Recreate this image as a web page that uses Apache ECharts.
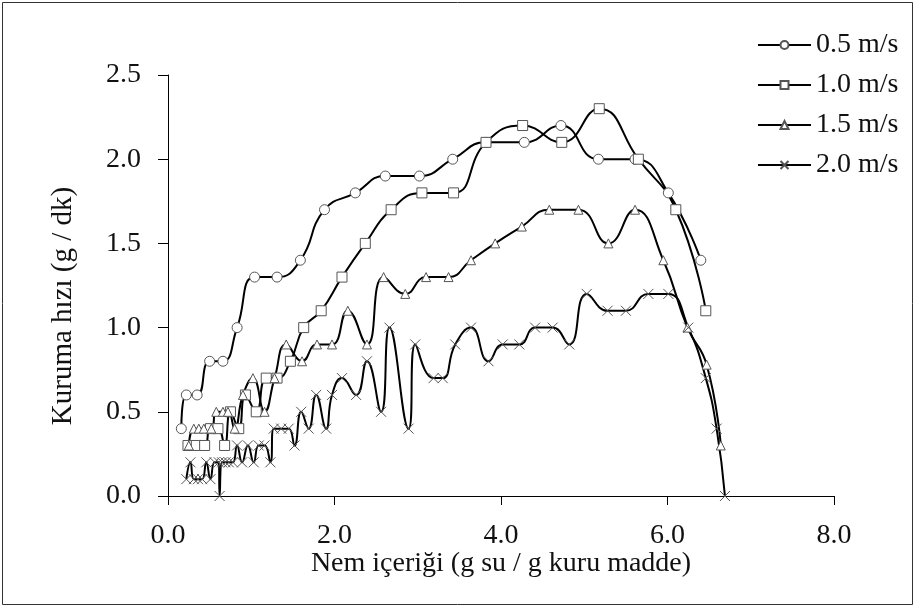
<!DOCTYPE html>
<html>
<head>
<meta charset="utf-8">
<script src="https://cdn.jsdelivr.net/npm/echarts@6/dist/echarts.min.js"></script>
<style>html,body{margin:0;padding:0;background:#fff}#c{width:916px;height:608px}</style>
</head>
<body>
<div id="c"></div>
<script>
const seriesNames = ['0.5 m/s', '1.0 m/s', '1.5 m/s', '2.0 m/s'];
const xTicks = ['0.0', '2.0', '4.0', '6.0', '8.0'];
const xTitle = 'Nem içeriği (g su / g kuru madde)';
const yTitle = 'Kuruma hızı (g / dk)';

const x05 = [0.16,0.22,0.35,0.50,0.66,0.83,1.04,1.31,1.59,1.88,2.25,2.61,3.02,3.42,3.82,4.28,4.72,5.17,5.61,6.01,6.40];
const y05 = [0.4,0.6,0.6,0.8,0.8,1.0,1.3,1.3,1.4,1.7,1.8,1.9,1.9,2.0,2.1,2.1,2.2,2.0,2.0,1.8,1.4];

const x10 = [0.24,0.34,0.44,0.51,0.60,0.68,0.75,0.85,0.93,1.06,1.18,1.31,1.47,1.63,1.84,2.09,2.37,2.68,3.05,3.43,3.82,4.26,4.73,5.18,5.65,6.10,6.46];
const y10 = [0.3,0.3,0.3,0.4,0.4,0.3,0.5,0.4,0.6,0.5,0.7,0.7,0.8,1.0,1.1,1.3,1.5,1.7,1.8,1.8,2.1,2.2,2.1,2.3,2.0,1.7,1.1];

const x15 = [0.25,0.31,0.37,0.43,0.52,0.58,0.66,0.72,0.80,0.90,1.02,1.16,1.28,1.42,1.61,1.79,1.97,2.16,2.39,2.59,2.85,3.10,3.37,3.64,3.93,4.25,4.58,4.93,5.29,5.61,5.95,6.24,6.47,6.64];
const y15 = [0.3,0.4,0.4,0.4,0.4,0.5,0.5,0.5,0.4,0.6,0.7,0.5,0.7,0.9,0.8,0.9,0.9,1.1,0.9,1.3,1.2,1.3,1.3,1.4,1.5,1.6,1.7,1.7,1.5,1.7,1.4,1.0,0.78,0.3];

const x20 = [0.22,0.27,0.31,0.36,0.41,0.46,0.51,0.56,0.61,0.62,0.65,0.69,0.73,0.78,0.83,0.89,0.96,1.03,1.09,1.16,1.23,1.27,1.36,1.45,1.52,1.60,1.69,1.78,1.90,1.97,2.09,2.26,2.39,2.56,2.66,2.89,2.97,3.19,3.30,3.45,3.64,3.85,4.02,4.22,4.41,4.62,4.82,5.03,5.28,5.50,5.77,6.01,6.25,6.46,6.59,6.69];
const y20 = [0.1,0.2,0.1,0.1,0.1,0.2,0.1,0.2,0.2,0.0,0.2,0.2,0.2,0.2,0.3,0.2,0.3,0.2,0.3,0.3,0.2,0.4,0.4,0.4,0.3,0.5,0.4,0.6,0.4,0.6,0.7,0.6,0.8,0.5,1.0,0.4,0.9,0.7,0.7,0.9,1.0,0.8,0.9,0.9,1.0,1.0,0.9,1.2,1.1,1.1,1.2,1.2,1.0,0.7,0.4,0.0];

function pairs(xs, ys) { return xs.map((x, i) => [x, ys[i]]); }

const FONT = 'Liberation Serif';
const markColor = '#555';
const symbols = ['circle', 'rect', 'triangle', 'path://M0,0L10,10M10,0L0,10'];
const sizes = [10, 10, 9, 10];
const datas = [pairs(x05, y05), pairs(x10, y10), pairs(x15, y15), pairs(x20, y20)];

const chart = echarts.init(document.getElementById('c'), null, {renderer: 'canvas'});
chart.setOption({
  animation: false,
  backgroundColor: '#fff',
  graphic: [{
    type: 'rect', silent: true, z: 0,
    shape: {x: 2.5, y: 2.5, width: 910, height: 602},
    style: {fill: 'none', stroke: '#333', lineWidth: 1}
  }, {
    type: 'text', silent: true, z: 5,
    x: 63, y: 306, rotation: Math.PI / 2,
    style: {text: yTitle, font: '29px "Liberation Serif"', fill: '#111',
      align: 'center', verticalAlign: 'middle'}
  }],
  legend: {
    orient: 'vertical', left: 752, top: 26, itemGap: 12,
    itemWidth: 53, itemHeight: 10,
    textStyle: {fontFamily: FONT, fontSize: 28, color: '#111'},
    data: seriesNames
  },
  grid: {left: 168, right: 82, top: 75, bottom: 112, containLabel: false},
  xAxis: {
    type: 'value', min: 0, max: 8, interval: 2,
    name: xTitle, nameLocation: 'middle', nameGap: 54, nameMoveOverlap: false,
    nameTextStyle: {fontFamily: FONT, fontSize: 28, color: '#111'},
    axisLine: {lineStyle: {color: '#000', width: 1}},
    axisTick: {show: true, inside: false, length: 9, lineStyle: {color: '#000'}},
    axisLabel: {fontFamily: FONT, fontSize: 28, color: '#111', margin: 26,
      formatter: (v) => xTicks[Math.round(v / 2)]},
    splitLine: {show: false}
  },
  yAxis: {
    type: 'value', min: 0, max: 2.5, interval: 0.5,
    axisLine: {show: true, lineStyle: {color: '#000', width: 1}},
    axisTick: {show: true, inside: false, length: 10, lineStyle: {color: '#000'}},
    axisLabel: {fontFamily: FONT, fontSize: 28, color: '#111', margin: 27,
      formatter: (v) => v.toFixed(1)},
    splitLine: {show: false}
  },
  series: seriesNames.map((n, i) => ({
    name: n, type: 'line', data: datas[i],
    smooth: 0.5, smoothMonotone: null,
    symbol: symbols[i], symbolSize: sizes[i],
    showSymbol: true,
    lineStyle: {color: '#000', width: 2},
    itemStyle: {color: i === 3 ? 'none' : '#fff', borderColor: markColor, borderWidth: 1},
    color: '#000',
    emphasis: {disabled: true},
    z: 2
  }))
});
</script>
</body>
</html>
